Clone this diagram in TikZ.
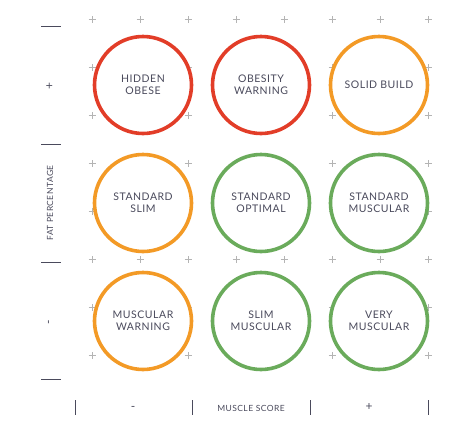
\documentclass[tikz,border=0pt]{standalone}
\usepackage{fontspec}
\setmainfont{Lato}
\newfontfamily\labelfont[LetterSpace=5]{Lato}
\usetikzlibrary{positioning}
\definecolor{colorObese}{HTML}{E23D28}
\definecolor{colorWarn}{HTML}{F39A26}
\definecolor{colorFit}{HTML}{6AAB5B}
\definecolor{colorText}{HTML}{4A4A5C}
\definecolor{colorGrid}{HTML}{B4B4B4}
\tikzset{
  result/.style={circle, draw, line width=3.6pt, fill=white, minimum size=97pt, inner sep=0pt, align=center, text=colorText, font=\labelfont\fontsize{10.5}{12}\selectfont},
  bad/.style={result, draw=colorObese},
  warn/.style={result, draw=colorWarn},
  good/.style={result, draw=colorFit},
  axisname/.style={text=colorText, font=\labelfont\fontsize{8.5}{9}\selectfont},
  axissign/.style={text=colorText, font=\fontsize{12}{12}\selectfont},
}

\begin{document}
\begin{tikzpicture}[x=1pt, y=1pt, node distance=17.4pt]
\useasboundingbox (0,0) rectangle (456,-424);
% grid of crosses
\foreach \i in {0,...,7}
  \foreach \j in {0,...,7}
    \draw[colorGrid, line width=0.5pt] (92+48*\i,-19-48*\j) +(-3.5,0) -- +(3.5,0) +(0,-3.5) -- +(0,3.5);
% results
\node[bad] (hidden) at (143,-85) {HIDDEN\\OBESE};
\node[bad, right=of hidden] (obesity) {OBESITY\\WARNING};
\node[warn, right=of obesity] (solid) {SOLID BUILD};
\node[warn, below=of hidden] (slim) {STANDARD\\SLIM};
\node[good, right=of slim] (optimal) {STANDARD\\OPTIMAL};
\node[good, right=of optimal] (stdmuscular) {STANDARD\\MUSCULAR};
\node[warn, below=of slim] (muscwarning) {MUSCULAR\\WARNING};
\node[good, right=of muscwarning] (slimmuscular) {SLIM\\MUSCULAR};
\node[good, right=of slimmuscular] (verymuscular) {VERY\\MUSCULAR};
% fat axis
\foreach \y in {26,144,262,379}
  \draw[colorText, line width=0.8pt] (41,-\y) -- (61,-\y);
\node[axissign, rotate=90] (fatplus) at (50,-86) {+};
\node[axisname, rotate=90] (fatname) at (50,-203) {FAT PERCENTAGE};
\node[axissign, rotate=90] (fatminus) at (50,-322) {-};
% muscle axis
\foreach \x in {75,192,310,428}
  \draw[colorText, line width=0.8pt] (\x,-400) -- (\x,-415);
\node[axissign] (muscminus) at (133,-408) {-};
\node[axisname] (muscname) at (251,-408) {MUSCLE SCORE};
\node[axissign] (muscplus) at (369,-407) {+};
\end{tikzpicture}
\end{document}
